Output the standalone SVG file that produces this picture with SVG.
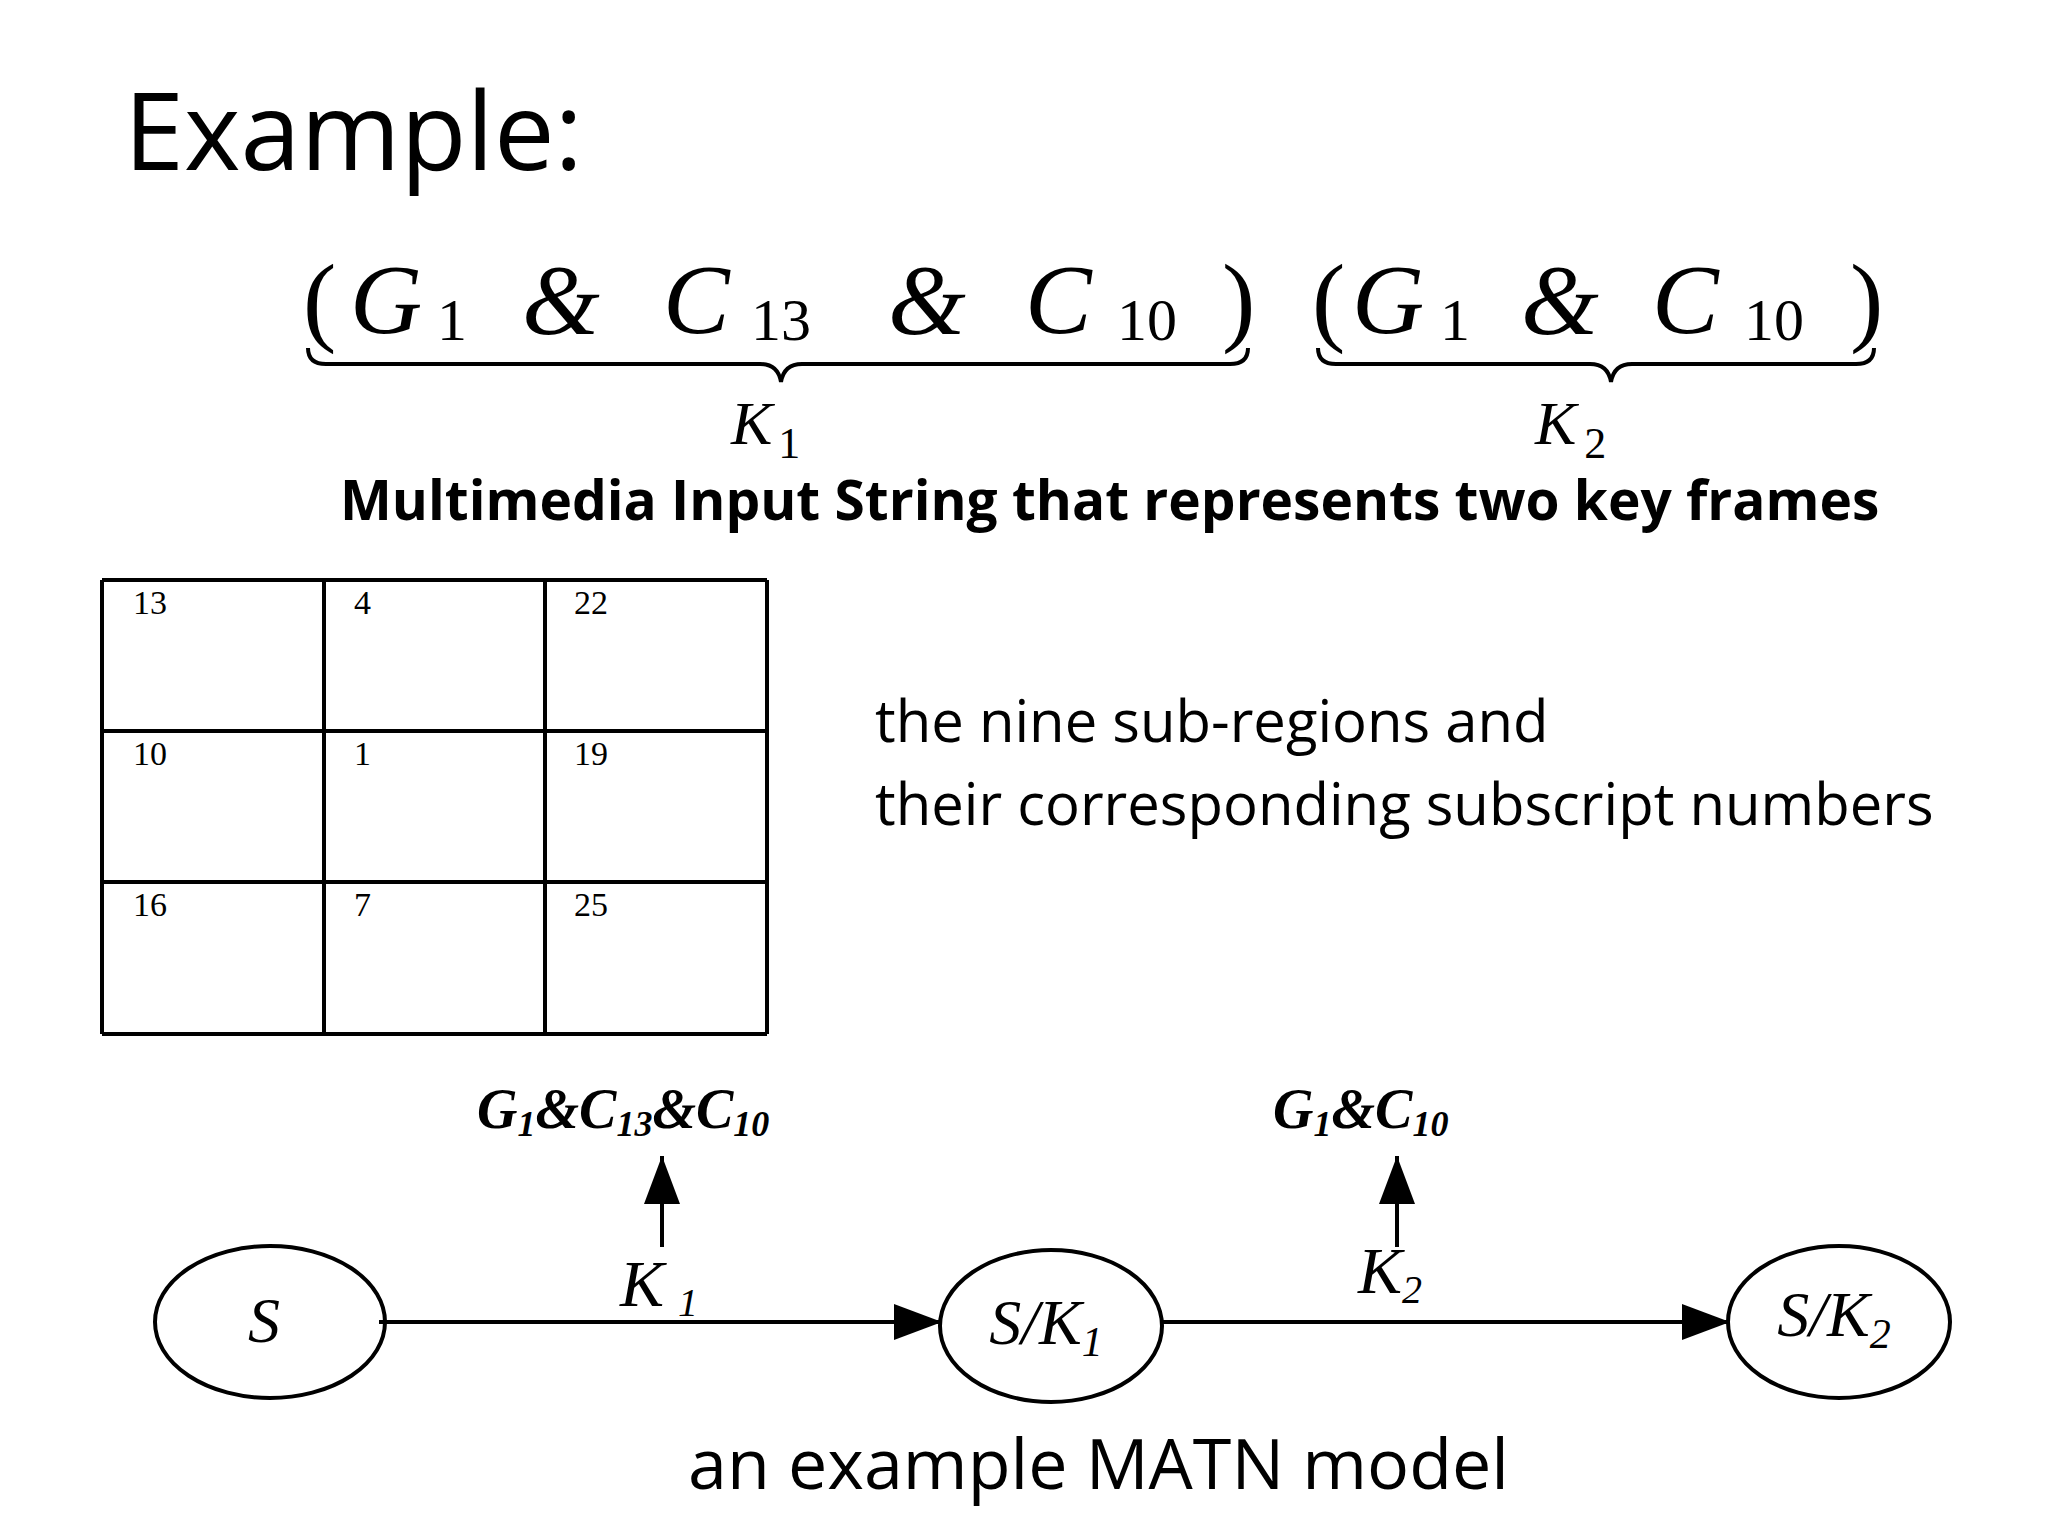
<svg xmlns="http://www.w3.org/2000/svg" width="2048" height="1536" viewBox="0 0 2048 1536">
<defs>
<style>
.sans{font-family:"Open Sans","Noto Sans",sans-serif;fill:#000}
.m{font-family:"Liberation Serif",serif;font-style:italic;fill:#000}
.n{font-family:"Liberation Serif",serif;fill:#000}
.up{font-style:normal}
.ln{stroke:#000;stroke-width:4;fill:none}
</style>
<marker id="ah2" markerWidth="48" markerHeight="36" refX="48" refY="18" orient="auto" markerUnits="userSpaceOnUse" viewBox="0 0 48 36"><path d="M0,0 L48,18 L0,36 z"/></marker>
</defs>
<rect width="2048" height="1536" fill="#fff"/>
<text class="sans" x="124" y="170" font-size="108">Example:</text>
<g id="formula">
<text class="m" y="333" font-size="100"><tspan class="up" x="303">(</tspan><tspan x="350">G</tspan><tspan class="up" x="437" y="340" font-size="60">1</tspan><tspan x="522" y="333">&amp;</tspan><tspan x="663">C</tspan><tspan class="up" x="751" y="340" font-size="60">13</tspan><tspan x="888" y="333">&amp;</tspan><tspan x="1025">C</tspan><tspan class="up" x="1117" y="340" font-size="60">10</tspan><tspan class="up" x="1222" y="333">)</tspan></text>
<text class="m" y="333" font-size="100"><tspan class="up" x="1312">(</tspan><tspan x="1352">G</tspan><tspan class="up" x="1440" y="340" font-size="60">1</tspan><tspan x="1521" y="333">&amp;</tspan><tspan x="1652">C</tspan><tspan class="up" x="1744" y="340" font-size="60">10</tspan><tspan class="up" x="1850" y="333">)</tspan></text>
<path class="ln" stroke-width="3" d="M308,348 Q308,364 326,364 L760,364 Q778,364 781,382 Q784,364 802,364 L1230,364 Q1248,364 1248,348"/>
<path class="ln" stroke-width="3" d="M1318,348 Q1318,364 1336,364 L1590,364 Q1608,364 1611,382 Q1614,364 1632,364 L1856,364 Q1874,364 1874,348"/>
<text class="m" x="731" y="444" font-size="62">K<tspan class="up" font-size="44" dx="6" dy="14">1</tspan></text>
<text class="m" x="1535" y="444" font-size="62">K<tspan class="up" font-size="44" dx="8" dy="14">2</tspan></text>
</g>
<text class="sans" x="340" y="520" font-size="55" font-weight="bold">Multimedia Input String that represents two key frames</text>
<g id="table">
<path class="ln" stroke-width="2.5" d="M102,580 H767 M102,731 H767 M102,882 H767 M102,1034 H767 M102,580 V1034 M324,580 V1034 M545,580 V1034 M767,580 V1034"/>
<g class="n" font-size="34">
<text x="133" y="614">13</text><text x="354" y="614">4</text><text x="574" y="614">22</text>
<text x="133" y="765">10</text><text x="354" y="765">1</text><text x="574" y="765">19</text>
<text x="133" y="916">16</text><text x="354" y="916">7</text><text x="574" y="916">25</text>
</g>
</g>
<text class="sans" x="875" y="742" font-size="58">the nine sub-regions and</text>
<text class="sans" x="875" y="825" font-size="58">their corresponding subscript numbers</text>
<g id="node-S"><ellipse class="ln" cx="270" cy="1322" rx="115" ry="76"/><text class="m" x="264" y="1342" font-size="64" text-anchor="middle">S</text></g>
<g id="node-SK1"><ellipse class="ln" cx="1051" cy="1326" rx="111" ry="76"/><text class="m" x="1046" y="1344" font-size="64" text-anchor="middle">S/K<tspan font-size="42" dy="12">1</tspan></text></g>
<g id="node-SK2"><ellipse class="ln" cx="1839" cy="1322" rx="111" ry="76"/><text class="m" x="1834" y="1336" font-size="64" text-anchor="middle">S/K<tspan font-size="42" dy="12">2</tspan></text></g>
<g id="connectors">
<line class="ln" x1="379" y1="1322" x2="942" y2="1322" marker-end="url(#ah2)"/>
<line class="ln" x1="1162" y1="1322" x2="1730" y2="1322" marker-end="url(#ah2)"/>
<line class="ln" stroke-width="6" x1="662" y1="1247" x2="662" y2="1156" marker-end="url(#ah2)"/>
<line class="ln" stroke-width="6" x1="1397" y1="1247" x2="1397" y2="1156" marker-end="url(#ah2)"/>
</g>
<text class="m" x="477" y="1128" font-size="56" font-weight="bold">G<tspan font-size="36" dy="8">1</tspan><tspan dy="-8">&amp;C</tspan><tspan font-size="36" dy="8">13</tspan><tspan dy="-8">&amp;C</tspan><tspan font-size="36" dy="8">10</tspan></text>
<text class="m" x="1273" y="1128" font-size="56" font-weight="bold">G<tspan font-size="36" dy="8">1</tspan><tspan dy="-8">&amp;C</tspan><tspan font-size="36" dy="8">10</tspan></text>
<text class="m" x="620" y="1306" font-size="66">K<tspan font-size="40" dx="14" dy="10">1</tspan></text>
<text class="m" x="1358" y="1293" font-size="66">K<tspan font-size="40" dy="10">2</tspan></text>
<text class="sans" x="688" y="1489" font-size="70">an example MATN model</text>
</svg>
